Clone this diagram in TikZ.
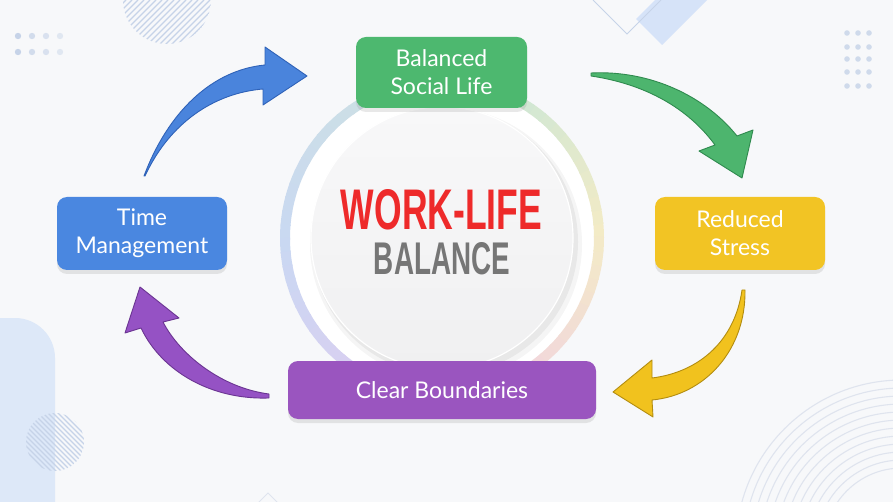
\documentclass[tikz,border=0pt]{standalone}
\usepackage{fontspec}
\setmainfont{Lato}
\newfontfamily\headfont{Liberation Sans}
\usetikzlibrary{shadows}
\definecolor{bg}{HTML}{F7F8FA}
\definecolor{cgreen}{HTML}{4DB86F}
\definecolor{cblue}{HTML}{4A87E0}
\definecolor{cyellow}{HTML}{F2C424}
\definecolor{cpurple}{HTML}{9A55BF}
\definecolor{agreenf}{HTML}{4DB56E}\definecolor{agreend}{HTML}{2F8A4E}
\definecolor{abluef}{HTML}{4A84DC}\definecolor{ablued}{HTML}{2F62B8}
\definecolor{ayelf}{HTML}{F1C21E}\definecolor{ayeld}{HTML}{B38D10}
\definecolor{apurf}{HTML}{9552C4}\definecolor{apurd}{HTML}{6B3592}
\definecolor{ryel}{HTML}{F3EBC6}
\definecolor{rgrn}{HTML}{CFE7D4}
\definecolor{rtea}{HTML}{CCDFE6}
\definecolor{rblu}{HTML}{C9D8F2}
\definecolor{rlav}{HTML}{DACFF1}
\definecolor{rpnk}{HTML}{F2D6DC}
\definecolor{wred}{HTML}{EE2A2A}
\definecolor{wgray}{HTML}{767676}
\definecolor{deco}{HTML}{C6D3E8}
\definecolor{panel}{HTML}{DDE8F8}
\definecolor{diafill}{HTML}{D6E3F8}
\definecolor{arcline}{HTML}{DFE4EE}
\definecolor{disktop}{HTML}{F8F8F9}
\definecolor{diskbot}{HTML}{F0F0F1}
\tikzset{
  x=1pt, y=-1pt,
  box/.style={rounded corners=10pt, text=white, align=center, inner sep=0pt,
    font=\fontsize{23}{28}\selectfont,
    drop shadow={shadow xshift=0pt, shadow yshift=-4pt, opacity=.18}},
  hatch/.style={draw=deco, line width=1.1pt},
  bigarrow/.style={line width=0.9pt, line join=round},
}
\begin{document}
\begin{tikzpicture}
\useasboundingbox (0,0) rectangle (893,502);
\clip (0,0) rectangle (893,502);
\fill[bg] (0,0) rectangle (893,502);
% ---- background decorations
\fill[panel, rounded corners=40pt] (-60,318) rectangle (55,560);
\begin{scope}
  \clip (167,0) circle[radius=44];
  \foreach \s in {60,66,...,240} \draw[hatch] (\s,60) -- (\s+60,0);
\end{scope}
\begin{scope}
  \clip (55,442) circle[radius=29];
  \foreach \s in {-50,-45,...,110} \draw[hatch] (\s,400) -- (\s+80,480);
\end{scope}
\foreach \x/\o in {18/1,32/0.75,46/0.6,60/0.45}
  \foreach \y in {36,52} \fill[deco, opacity=\o] (\x,\y) circle[radius=3.2];
\foreach \x in {847,858,869}
  \foreach \y in {33,47,59,72,86} \fill[deco, opacity=.8] (\x,\y) circle[radius=2.8];
\fill[diafill] (662,45) -- (636,19) -- (655,0) -- (707,0) -- cycle;
\draw[deco, line width=1pt] (593,0) -- (627,34) -- (661,0);
\foreach \r in {78,86,...,166} \draw[arcline, line width=1.1pt] (902,546) circle[radius=\r];
\draw[arcline, line width=1pt] (258,503) -- (268,493) -- (278,503);
% ---- central ring and disk
\coordinate (ring) at (442,238);
\fill[white] (ring) circle[radius=153];
\foreach \k/\ca/\cb in {0/ryel/rgrn,1/rgrn/rtea,2/rtea/rblu,3/rblu/rlav,4/rlav/rpnk,5/rpnk/ryel}{
  \foreach \j in {0,...,11}{
    \pgfmathtruncatemacro\p{100-\j*100/12}
    \pgfmathsetmacro\a{-(\k*60+\j*5)}
    \draw[line width=10pt, draw=\ca!\p!\cb] (ring) ++(\a:157) arc[start angle=\a, delta angle=-5.6, radius=157];
  }
}
\fill[black, opacity=.04] (446,244) circle[radius=136];
\fill[black, opacity=.05] (445,242) circle[radius=133];
\shade[top color=disktop, bottom color=diskbot] (ring) circle[radius=131];
\draw[white, line width=1.2pt] (ring) circle[radius=131];
\node[inner sep=0pt, text=wred] (work) at (441.5,210)
  {\resizebox{201pt}{40pt}{\headfont\bfseries WORK-LIFE}};
\node[inner sep=0pt, text=wgray] (bal) at (442,259)
  {\resizebox{136pt}{32pt}{\headfont\bfseries BALANCE}};
% ---- arrows
\filldraw[bigarrow, fill=abluef, draw=ablued]
  (144,176) .. controls (168,112) and (212,70) .. (265,65) -- (265,47) -- (307,76)
  -- (263,105) -- (263,89) .. controls (215,93) and (170,122) .. (145,176) -- cycle;
\filldraw[bigarrow, fill=agreenf, draw=agreend]
  (591,73) .. controls (650,70) and (705,96) .. (737,136) -- (753,130) -- (742,178)
  -- (699,151) -- (715,145) .. controls (688,108) and (645,84) .. (591,76) -- cycle;
\filldraw[bigarrow, fill=ayelf, draw=ayeld]
  (745,290) .. controls (746,350) and (705,395) .. (652,400) -- (653,417) -- (613,392)
  -- (652,360) -- (652,378) .. controls (700,372) and (735,340) .. (742,290) -- cycle;
\filldraw[bigarrow, fill=apurf, draw=apurd]
  (269,398) .. controls (212,400) and (162,372) .. (141,328) -- (125,333) -- (140,287)
  -- (179,318) -- (163,322) .. controls (180,355) and (222,388) .. (269,394) -- cycle;
% ---- boxes
\node[box, fill=cgreen, minimum width=171pt, minimum height=71pt] (social) at (441.5,72.5) {Balanced\\Social Life};
\node[box, fill=cyellow, minimum width=170pt, minimum height=73pt] (stress) at (740,233.5) {Reduced\\Stress};
\node[box, fill=cpurple, minimum width=308pt, minimum height=58pt] (bound) at (442,390) {Clear Boundaries};
\node[box, fill=cblue, minimum width=170pt, minimum height=73pt] (time) at (142,233.5) {Time\\Management};
\end{tikzpicture}
\end{document}
